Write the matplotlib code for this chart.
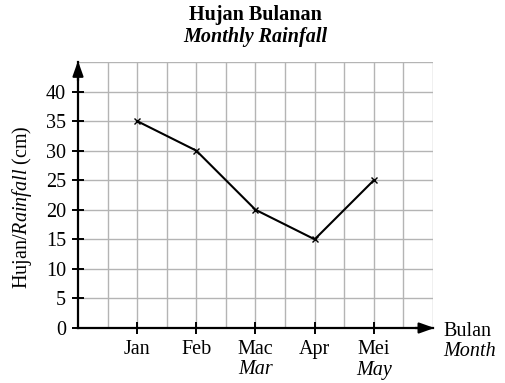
import matplotlib
matplotlib.use("Agg")
import matplotlib.pyplot as plt
import numpy as np

plt.rcParams["font.family"] = ["Liberation Serif", "DejaVu Serif"]
plt.rcParams["mathtext.fontset"] = "custom"
plt.rcParams["mathtext.rm"] = "Liberation Serif"
plt.rcParams["mathtext.it"] = "Liberation Serif:italic"

months_ms = ["Jan", "Feb", "Mac", "Apr", "Mei"]
months_en = ["", "", "Mar", "", "May"]
rainfall = [35, 30, 20, 15, 25]
y_ticks = [0, 5, 10, 15, 20, 25, 30, 35, 40]

FS = 14.5

fig = plt.figure(figsize=(5.06, 3.83), dpi=100)
ax = fig.add_axes([78 / 506, 1 - 328 / 383, (433 - 78) / 506, (328 - 62) / 383])

x = np.arange(1, len(months_ms) + 1)

# grid: half-month columns, 5 cm rows
ax.set_xlim(0, 6)
ax.set_ylim(0, 45)
for gx in np.arange(0.5, 6.01, 0.5):
    ax.axvline(gx, color="#b4b4b4", lw=1.0, zorder=0)
for gy in np.arange(5, 45.01, 5):
    ax.axhline(gy, color="#b4b4b4", lw=1.0, zorder=0)

ax.plot(x, rainfall, color="black", lw=1.5, marker="x", ms=5, mew=1.0, zorder=3)

for s in ["top", "right"]:
    ax.spines[s].set_visible(False)
for s in ["left", "bottom"]:
    ax.spines[s].set_linewidth(1.6)
    ax.spines[s].set_zorder(4)

ax.set_xticks(x)
ax.set_xticklabels(months_ms, fontsize=FS)
ax.set_yticks(y_ticks)
ax.set_yticklabels([str(v) for v in y_ticks], fontsize=FS)
ax.tick_params(axis="y", direction="inout", length=9, width=1.4, pad=4)
ax.tick_params(axis="x", direction="inout", length=9, width=1.4, pad=4)

for xi, lab in zip(x, months_en):
    if lab:
        ax.text(xi, -(370 - 328) / 266, lab, transform=ax.get_xaxis_transform(),
                ha="center", va="center", fontsize=FS, style="italic")

# axis arrowheads
arrow = dict(arrowstyle="-|>,head_length=0.9,head_width=0.32",
             color="black", lw=1.6, shrinkA=0, shrinkB=0)
ax.annotate("", xy=(1.004, 0), xytext=(0.95, 0), xycoords="axes fraction",
            arrowprops=arrow)
ax.annotate("", xy=(0, 1.004), xytext=(0, 0.93), xycoords="axes fraction",
            arrowprops=arrow)

fig.text(443 / 506, 1 - 331 / 383, "Bulan", ha="left", va="center", fontsize=FS)
fig.text(443 / 506, 1 - 352 / 383, "Month", ha="left", va="center",
         fontsize=FS, style="italic")

fig.text(22 / 506, 1 - 207 / 383, r"Hujan/$\mathit{Rainfall}$ (cm)", rotation=90,
         ha="center", va="center", fontsize=FS)

fig.text(255 / 506, 1 - 15 / 383, "Hujan Bulanan", ha="center", va="center",
         fontsize=FS, fontweight="bold")
fig.text(255 / 506, 1 - 37 / 383, "Monthly Rainfall", ha="center", va="center",
         fontsize=FS, fontweight="bold", style="italic")

fig.savefig("out.png", dpi=100)
